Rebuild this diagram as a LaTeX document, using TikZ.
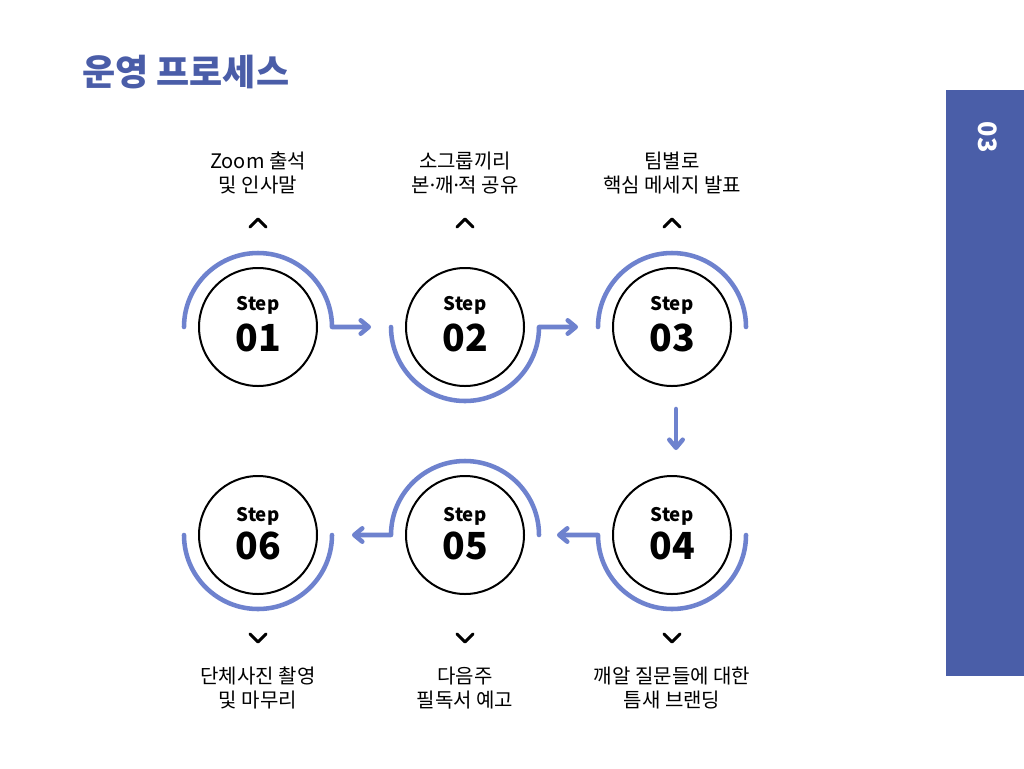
\documentclass[tikz,border=0pt]{standalone}
\usepackage{fontspec}
\setmainfont{Noto Sans CJK KR}
\newfontfamily\latinf{Noto Sans}
\usetikzlibrary{arrows.meta,calc}
\definecolor{arcblue}{HTML}{6E82CE}
\definecolor{titleblue}{HTML}{4A5DA8}
\definecolor{sideblue}{HTML}{4A5EA8}
\begin{document}
\begin{tikzpicture}[x=0.75pt,y=-0.75pt,
  stepc/.style={circle,draw=black,line width=1.5pt,minimum size=88.5pt,inner sep=0pt},
  steplbl/.style={font=\bfseries\fontsize{14pt}{16pt}\selectfont,inner sep=0pt},
  stepnum/.style={font=\bfseries\fontsize{28pt}{30pt}\selectfont,inner sep=0pt},
  ring/.style={draw=arcblue,line width=3.4pt,line cap=round,line join=round},
  flow/.style={ring,-{Straight Barb[round,length=6pt,width=10pt]}},
  chev/.style={draw=black,line width=2.2pt,line cap=round,line join=round},
  desc/.style={align=center,font=\fontsize{15pt}{18pt}\selectfont,inner sep=0pt}]
\useasboundingbox (0,0) rectangle (1024,768);
\fill[white] (0,0) rectangle (1024,768);

% title
\node[anchor=west,inner sep=0pt,text=titleblue,font=\bfseries\fontsize{27pt}{30pt}\selectfont] (title) at (82,72) {운영 프로세스};

% side bar
\fill[sideblue] (946,90) rectangle (1024,676);
\node[rotate=-90,text=white,font=\bfseries\fontsize{19pt}{21pt}\selectfont,inner sep=0pt] (sidenum) at (988,137) {03};

% step circles
\node[stepc] (s1) at (258,327) {};
\node[stepc] (s2) at (465,327) {};
\node[stepc] (s3) at (672,327) {};
\node[stepc] (s4) at (672,535) {};
\node[stepc] (s5) at (465,535) {};
\node[stepc] (s6) at (258,535) {};

\foreach \s/\n/\o in {s1/01/-22,s2/02/-22,s3/03/-22,s4/04/-19,s5/05/-19,s6/06/-19}{
  \node[steplbl] (\s-step) at ($(\s)+(0,\o)$) {Step};
  \node[stepnum] (\s-num) at ($(\s)+(0,11)$) {\n};
}

% arcs and connectors
\draw[flow] ($(s1)+(-74,0)$) arc[start angle=180,end angle=360,radius=74] -- ($(s2)+(-94,0)$);
\draw[flow] ($(s2)+(-74,0)$) arc[start angle=180,end angle=0,radius=74] -- ($(s3)+(-94,0)$);
\draw[ring] ($(s3)+(-74,0)$) arc[start angle=180,end angle=360,radius=74];
\draw[flow] ($(s3)+(4,82)$) -- ($(s4)+(4,-85)$);
\draw[flow] ($(s4)+(74,0)$) arc[start angle=0,end angle=180,radius=74] -- ($(s5)+(92,0)$);
\draw[flow] ($(s5)+(74,0)$) arc[start angle=360,end angle=180,radius=74] -- ($(s6)+(94,0)$);
\draw[ring] ($(s6)+(-74,0)$) arc[start angle=180,end angle=0,radius=74];

% chevrons
\foreach \s in {s1,s2,s3}{
  \draw[chev] ($(\s)+(-8,-100)$) -- ($(\s)+(0,-108)$) -- ($(\s)+(8,-100)$);
}
\foreach \s in {s4,s5,s6}{
  \draw[chev] ($(\s)+(-8,99)$) -- ($(\s)+(0,107)$) -- ($(\s)+(8,99)$);
}

% descriptions
\node[desc] (d1) at ($(s1)+(0,-154)$) {Zoom 출석\\및 인사말};
\node[desc] (d2) at ($(s2)+(0,-154)$) {소그룹끼리\\본{\latinf ·}깨{\latinf ·}적 공유};
\node[desc] (d3) at ($(s3)+(0,-154)$) {팀별로\\핵심 메세지 발표};
\node[desc] (d4) at ($(s4)+(0,153)$) {깨알 질문들에 대한\\틈새 브랜딩};
\node[desc] (d5) at ($(s5)+(0,153)$) {다음주\\필독서 예고};
\node[desc] (d6) at ($(s6)+(0,153)$) {단체사진 촬영\\및 마무리};
\end{tikzpicture}
\end{document}
